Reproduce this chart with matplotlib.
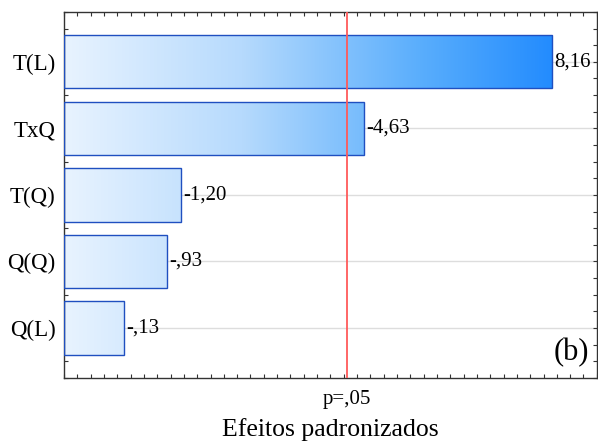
import numpy as np
import matplotlib.pyplot as plt
from matplotlib.patches import Rectangle
from matplotlib.colors import LinearSegmentedColormap
from matplotlib.ticker import MultipleLocator

# Standardized effects (Pareto chart)
terms = ["T(L)", "TxQ", "T(Q)", "Q(Q)", "Q(L)"]
effects = [8.16, -4.63, -1.20, -0.93, -0.13]
p_crit = 4.303
p_label = "p=,05"

def fmt(v):
    s = f"{v:.2f}".replace(".", ",")
    s = s.replace("-0,", "-,")
    if s.startswith("0,"):
        s = s[1:]
    return s

plt.rcParams['font.family'] = ['Liberation Serif', 'DejaVu Serif']

fig = plt.figure(figsize=(5.98, 4.43), dpi=100)
ax = fig.add_axes([0.107, 0.147, 0.891, 0.826])

xmin, xmax = -1.0, 9.0
ypos = np.arange(len(terms))[::-1]
ax.set_xlim(xmin, xmax)
ax.set_ylim(-0.75, len(terms) - 0.25)

cmap = LinearSegmentedColormap.from_list("grad", ["#e8f3ff", "#b6dafd", "#5aaefc", "#1080ff"])
grad = np.linspace(0, 1, 256).reshape(1, -1)

for y in ypos:
    ax.axhline(y, color="#dddddd", lw=1.0, zorder=0)

h = 0.8
for y, v in zip(ypos, effects):
    w = abs(v) - xmin
    rect = Rectangle((xmin, y - h / 2), w, h, facecolor="none",
                     edgecolor="#1f4fc0", lw=1.0, zorder=3)
    ax.add_patch(rect)
    im = ax.imshow(grad, extent=(xmin, xmax, y - h / 2, y + h / 2),
                   cmap=cmap, aspect="auto", zorder=2, interpolation="bilinear")
    im.set_clip_path(rect)
    ax.text(abs(v) + 0.04, y, fmt(v), ha="left", va="center", fontsize=15, zorder=4)

ax.axvline(p_crit, color="#ff5a5a", lw=1.3, zorder=5)

ax.set_yticks(ypos)
ax.set_yticklabels(terms, fontsize=16.5)
ax.yaxis.set_minor_locator(MultipleLocator(0.25))
ax.set_xticks([p_crit])
ax.set_xticklabels([p_label], fontsize=15)
ax.xaxis.set_minor_locator(MultipleLocator(0.25))

ax.tick_params(axis="both", which="both", direction="in", top=True, right=True,
               length=3, width=0.8, color="#333333")
ax.tick_params(axis="x", which="major", length=0, pad=9)
ax.tick_params(axis="y", which="major", pad=6)

for s in ax.spines.values():
    s.set_color("#333333")
    s.set_linewidth(1.0)

ax.text(0.985, 0.03, "(b)", transform=ax.transAxes, ha="right", va="bottom", fontsize=22)
ax.set_xlabel("Efeitos padronizados", fontsize=18.5, labelpad=6)

fig.savefig("out.png", dpi=100)
